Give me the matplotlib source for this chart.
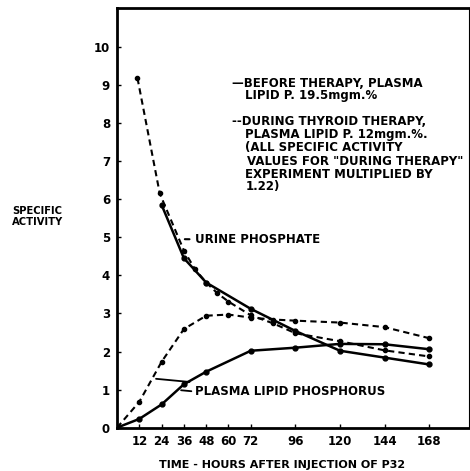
import matplotlib
matplotlib.use("Agg")
import matplotlib.pyplot as plt

# Time points (hours) and specific activity values
urine_before_t = [24, 36, 48, 72, 96, 120, 144, 168]
urine_before_v = [5.85, 4.45, 3.81, 3.12, 2.54, 2.02, 1.84, 1.66]

urine_during_t = [11, 23, 36, 42, 48, 54, 60, 72, 84, 96, 120, 144, 168]
urine_during_v = [9.18, 6.15, 4.65, 4.16, 3.81, 3.53, 3.31, 2.95, 2.74, 2.48, 2.27, 2.03, 1.87]

plasma_before_t = [0, 12, 24, 36, 48, 72, 96, 120, 144, 168]
plasma_before_v = [0, 0.23, 0.61, 1.14, 1.47, 2.02, 2.10, 2.20, 2.19, 2.06]

plasma_during_t = [0, 12, 24, 36, 48, 60, 72, 84, 96, 120, 144, 168]
plasma_during_v = [0, 0.68, 1.73, 2.59, 2.94, 2.97, 2.89, 2.84, 2.81, 2.76, 2.64, 2.35]

x_ticks = [12, 24, 36, 48, 60, 72, 96, 120, 144, 168]
y_ticks = list(range(0, 11))

key_lines = [
    (62, 9.03, "—BEFORE THERAPY, PLASMA"),
    (69, 8.71, "LIPID P. 19.5mgm.%"),
    (62, 8.03, "--DURING THYROID THERAPY,"),
    (69, 7.69, "PLASMA LIPID P. 12mgm.%."),
    (69, 7.35, "(ALL SPECIFIC ACTIVITY"),
    (70, 7.00, "VALUES FOR \"DURING THERAPY\""),
    (69, 6.66, "EXPERIMENT MULTIPLIED BY"),
    (69, 6.32, "1.22)"),
]

plt.rcParams['font.family'] = ['DejaVu Sans']
plt.rcParams['font.weight'] = 'bold'

fig = plt.figure(figsize=(4.70, 4.71), dpi=100)
ax = fig.add_axes([0.249, 0.092, 0.749, 0.891])

solid = dict(color='black', lw=1.8, marker='o', ms=3.5)
dashed = dict(color='black', lw=1.5, ls=(0, (3, 2)), marker='o', ms=3)

ax.plot(urine_before_t, urine_before_v, **solid)
ax.plot(plasma_before_t, plasma_before_v, **solid)
ax.plot(urine_during_t, urine_during_v, **dashed)
ax.plot(plasma_during_t, plasma_during_v, **dashed)

ax.set_xlim(0, 189.5)
ax.set_ylim(0, 11.02)
ax.set_xticks(x_ticks)
ax.set_yticks(y_ticks)
ax.tick_params(direction='in', length=3, width=1, labelsize=8.5, pad=5)
for lab in ax.get_xticklabels() + ax.get_yticklabels():
    lab.set_fontweight('bold')

for side in ['left', 'bottom', 'top']:
    ax.spines[side].set_linewidth(2)
ax.spines['right'].set_linewidth(0.8)

fs = 8.5
for x, y, s in key_lines:
    ax.text(x, y, s, fontsize=fs, fontweight='bold', va='center')

# urine phosphate label with leader
ax.annotate("URINE PHOSPHATE", xy=(35, 4.95), xytext=(42, 4.93), fontsize=fs, fontweight='bold',
            va='center', arrowprops=dict(arrowstyle='-', color='black', lw=1.5))

# plasma lipid phosphorus label with two leaders
ax.annotate("PLASMA LIPID PHOSPHORUS", xy=(19.5, 1.29), xytext=(42, 0.95), fontsize=fs,
            fontweight='bold', va='center', arrowprops=dict(arrowstyle='-', color='black', lw=1.3))
ax.annotate("", xy=(33, 0.99), xytext=(41.5, 0.95),
            arrowprops=dict(arrowstyle='-', color='black', lw=1.3))

ax.set_xlabel("TIME - HOURS AFTER INJECTION OF P32", fontsize=8, fontweight='bold')
ax.xaxis.set_label_coords(0.47, -0.076)
fig.text(0.079, 0.54, "SPECIFIC\nACTIVITY", ha='center', va='center', fontsize=7.2,
         fontweight='bold', linespacing=1.15)

fig.savefig("out.png", dpi=100)
